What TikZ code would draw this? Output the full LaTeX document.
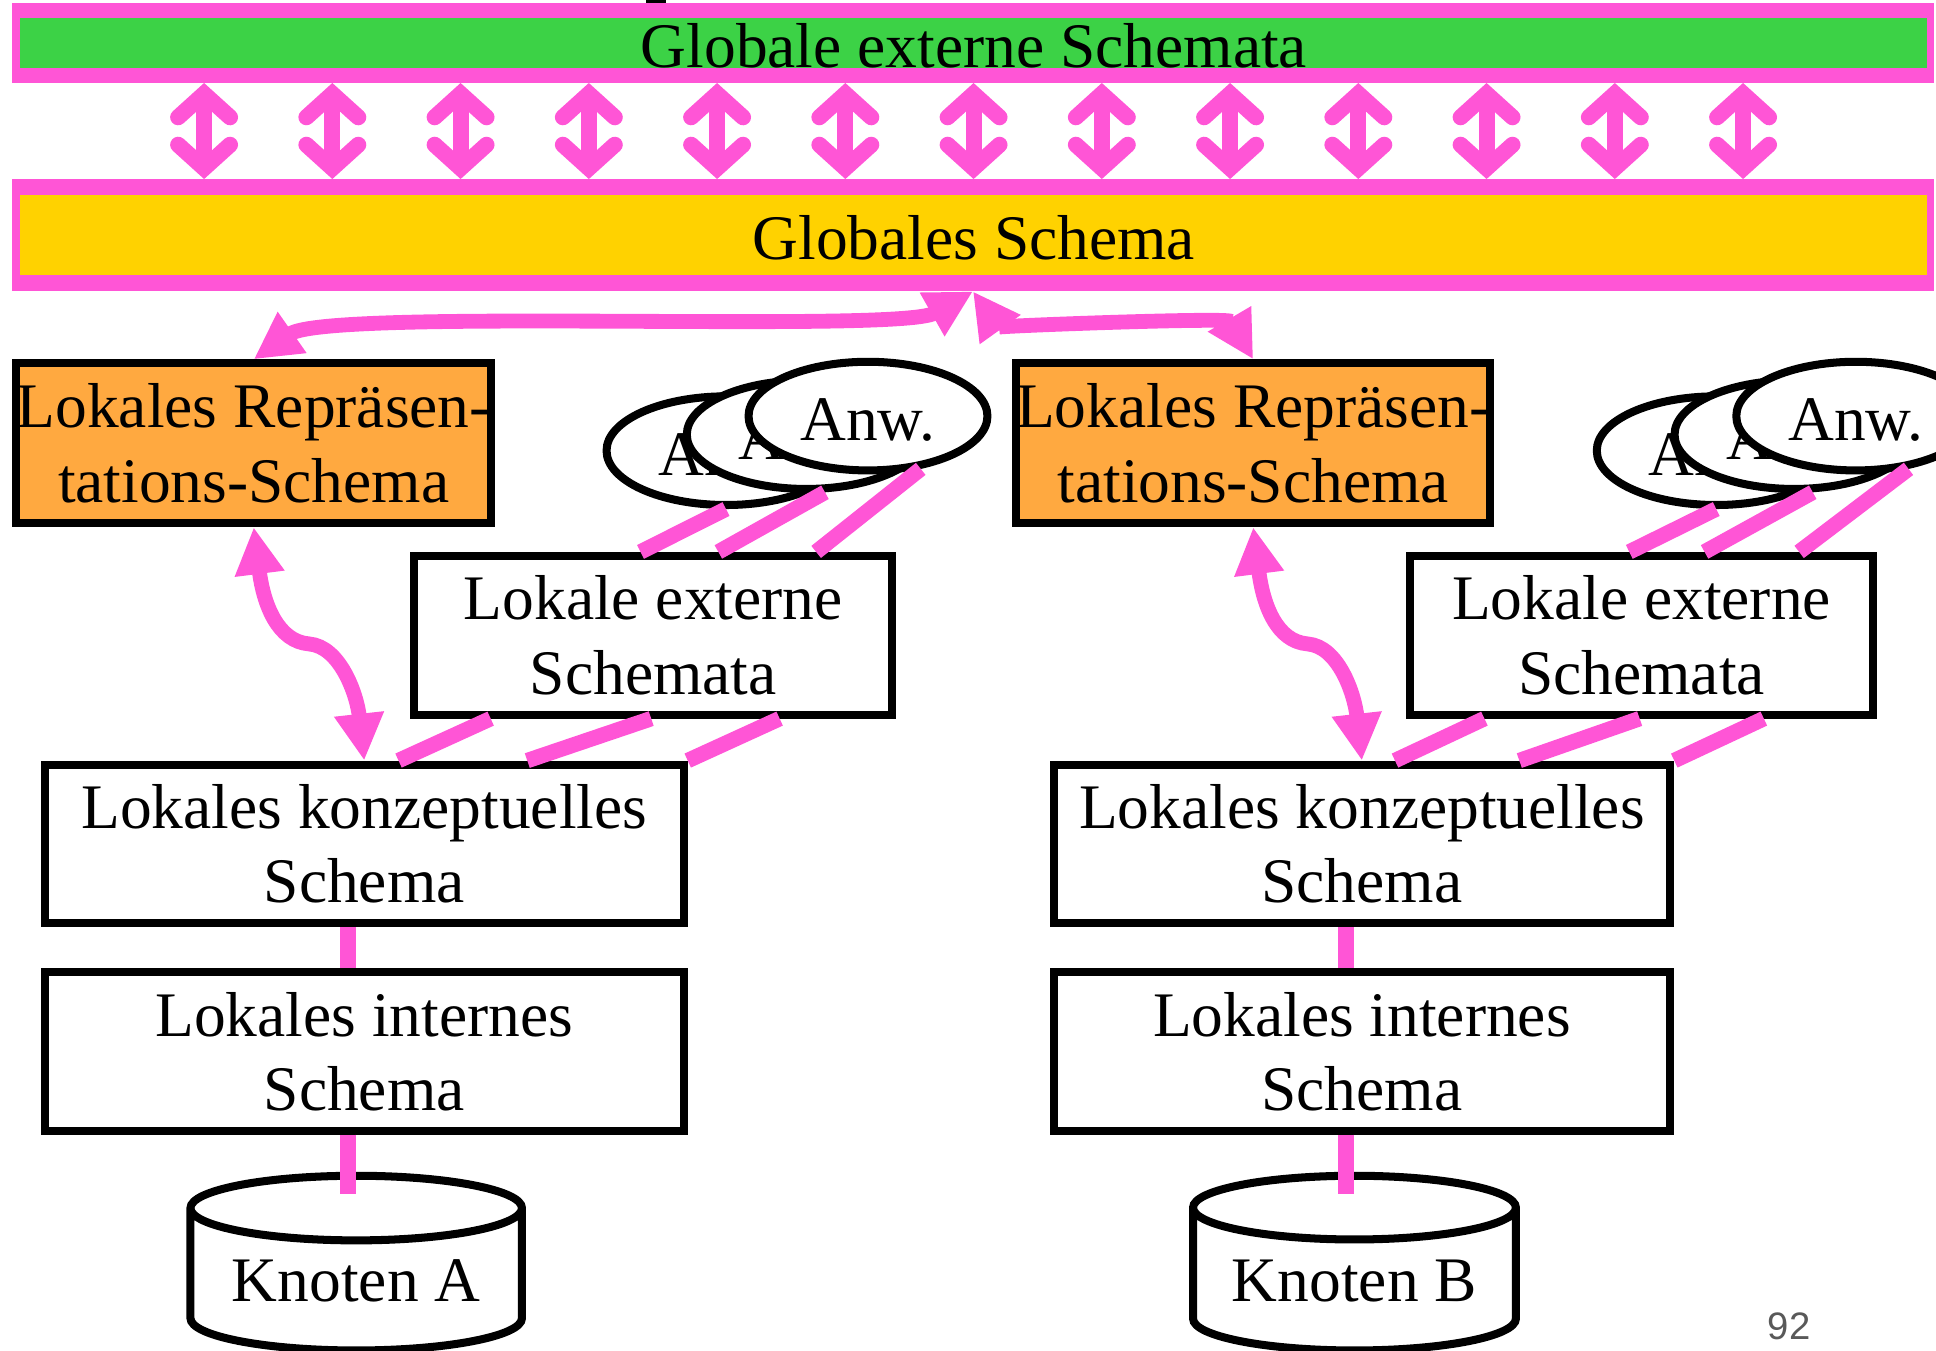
\documentclass[tikz,border=0pt]{standalone}
\usepackage{fontspec}
\setmainfont{Liberation Serif}
\newfontfamily\pagenumfont{Liberation Sans}
\definecolor{linkpink}{RGB}{255,85,214}
\definecolor{bargreen}{RGB}{60,210,70}
\definecolor{baryellow}{RGB}{255,210,0}
\definecolor{boxorange}{RGB}{255,169,64}
\definecolor{pagegray}{RGB}{89,89,89}
\usetikzlibrary{arrows.meta,positioning,shapes.geometric,calc}
\newcommand{\schemafont}{\fontsize{25.7pt}{30pt}\selectfont}

\begin{document}
\begin{tikzpicture}[x=0.5pt, y=-0.5pt,
    bar/.style={inner sep=0pt, outer sep=0pt},
    bartext/.style={bar, font=\schemafont, text height=20pt, text depth=0pt},
    schemabox/.style={draw=black, line width=3.25pt, fill=white, align=center,
        inner sep=0pt, minimum height=64.25pt, font=\schemafont},
    reprbox/.style={schemabox, fill=boxorange, minimum height=64.75pt},
    anw/.style={ellipse, draw=black, line width=3.25pt, fill=white, inner sep=0pt,
        minimum width=96.75pt, minimum height=44pt, font=\schemafont,
        text height=20pt, text depth=0pt},
    knoten/.style={cylinder, shape border rotate=90, aspect=0.26, draw=black,
        line width=3.25pt, fill=white, inner sep=0pt, minimum height=70.75pt,
        anchor=shape center, font=\schemafont},
    link/.style={draw=linkpink, line width=6.25pt},
    biarrow/.style={link, line width=6pt,
        {Triangle[length=19pt, width=19pt]}-{Triangle[length=19pt, width=19pt]}},
    mapping/.style={link, line width=6.5pt,
        {Straight Barb[length=9.5pt, width=21pt, line cap=round, line join=miter]}-{Straight Barb[length=9.5pt, width=21pt, line cap=round, line join=miter]}}]
    \useasboundingbox (0,0) rectangle (1568,1094);

    % global layers
    \fill (523,0) rectangle (539,2.7);
    \node[bar, fill=linkpink, minimum width=778pt, minimum height=32.4pt] (gebar) at (788,34.8) {};
    \node[bartext, fill=bargreen, minimum width=772.25pt, minimum height=19.45pt] (ge) at (788.75,34.85) {Globale externe Schemata};
    \node[bar, fill=linkpink, minimum width=778pt, minimum height=45.5pt] (gsbar) at (788,190.5) {};
    \node[bartext, fill=baryellow, minimum width=772.25pt, minimum height=32.5pt] (gs) at (788.75,190.5) {Globales Schema};
    \foreach \i [evaluate=\i as \x using 165.3+103.87*\i] in {0,...,12}
        \draw[mapping] (\x,0 |- gebar.south) -- (\x,0 |- gsbar.north);

    % node A
    \node[reprbox, minimum width=192.25pt] (lrsA) at (205.5,359) {Lokales Repräsen-\\tations-Schema};
    \node[anw] (anwA1) at (588,365) {Anw.};
    \node[anw] (anwA2) at (653,352) {Anw.};
    \node[anw] (anwA3) at (703,337) {Anw.};
    \node[schemabox, minimum width=193.75pt] (extA) at (529,514.5) {Lokale externe\\Schemata};
    \node[schemabox, minimum width=258.75pt] (konzA) at (295,683.5) {Lokales konzeptuelles\\Schema};
    \node[schemabox, minimum width=258.75pt] (intA) at (295,851.5) {Lokales internes\\Schema};
    \node[knoten, minimum width=134.25pt] (knotenA) at (288.5,1023) {Knoten A};

    % node B
    \node[reprbox, minimum width=188.75pt] (lrsB) at (1015,359) {Lokales Repräsen-\\tations-Schema};
    \node[anw] (anwB1) at (1390,365) {Anw.};
    \node[anw] (anwB2) at (1453,352) {Anw.};
    \node[anw] (anwB3) at (1503,337) {Anw.};
    \node[schemabox, minimum width=187.25pt] (extB) at (1329.5,514.5) {Lokale externe\\Schemata};
    \node[schemabox, minimum width=249.75pt] (konzB) at (1103,683.5) {Lokales konzeptuelles\\Schema};
    \node[schemabox, minimum width=249.75pt] (intB) at (1103,851.5) {Lokales internes\\Schema};
    \node[knoten, minimum width=130.75pt] (knotenB) at (1097,1023) {Knoten B};

    \node[font=\pagenumfont\fontsize{15.5pt}{18pt}\selectfont, text=pagegray] (pgnum) at (1449,1074) {92};

    % representation schemata up to the global schema
    \draw[biarrow] (lrsA.north) .. controls ($(lrsA.north)+(60,-42)$) and ($(gsbar.south)+(-60,34)$) .. (gsbar.south);
    \draw[biarrow] (gsbar.south) .. controls ($(gsbar.south)+(20,28)$) and ($(lrsB.north)+(-20,-34)$) .. (lrsB.north);

    \foreach \s in {A,B}{
        % representation schema down to the conceptual one
        \coordinate (bend\s) at ($(lrs\s.south)!0.5!(konz\s.north)$);
        \draw[biarrow] (lrs\s.south) .. controls ($(lrs\s.south)+(8,63)$) and ($(bend\s)+(-25,-2)$) .. (bend\s)
            .. controls ($(bend\s)+(25,2)$) and ($(konz\s.north)+(-6,-54)$) .. (konz\s.north);
        % applications on the external schemata
        \draw[link] (anw\s1.south) -- ($(ext\s.north west)!0.474!(ext\s.north east)$);
        \draw[link] (anw\s2.-72) -- ($(ext\s.north west)!0.634!(ext\s.north east)$);
        \draw[link] (anw\s3.-45) -- ($(ext\s.north west)!0.835!(ext\s.north east)$);
        \foreach \u/\l in {0.166/0.553, 0.496/0.752, 0.76/1}
            \draw[link] ($(ext\s.south west)!\u!(ext\s.south east)$) -- ($(konz\s.north west)!\l!(konz\s.north east)$);
        \draw[link] ([xshift=-6.5pt]konz\s.south) -- ([xshift=-6.5pt]int\s.north);
        \draw[link] ([xshift=-6.5pt]int\s.south) -- ++(0,48);
    }
\end{tikzpicture}
\end{document}
